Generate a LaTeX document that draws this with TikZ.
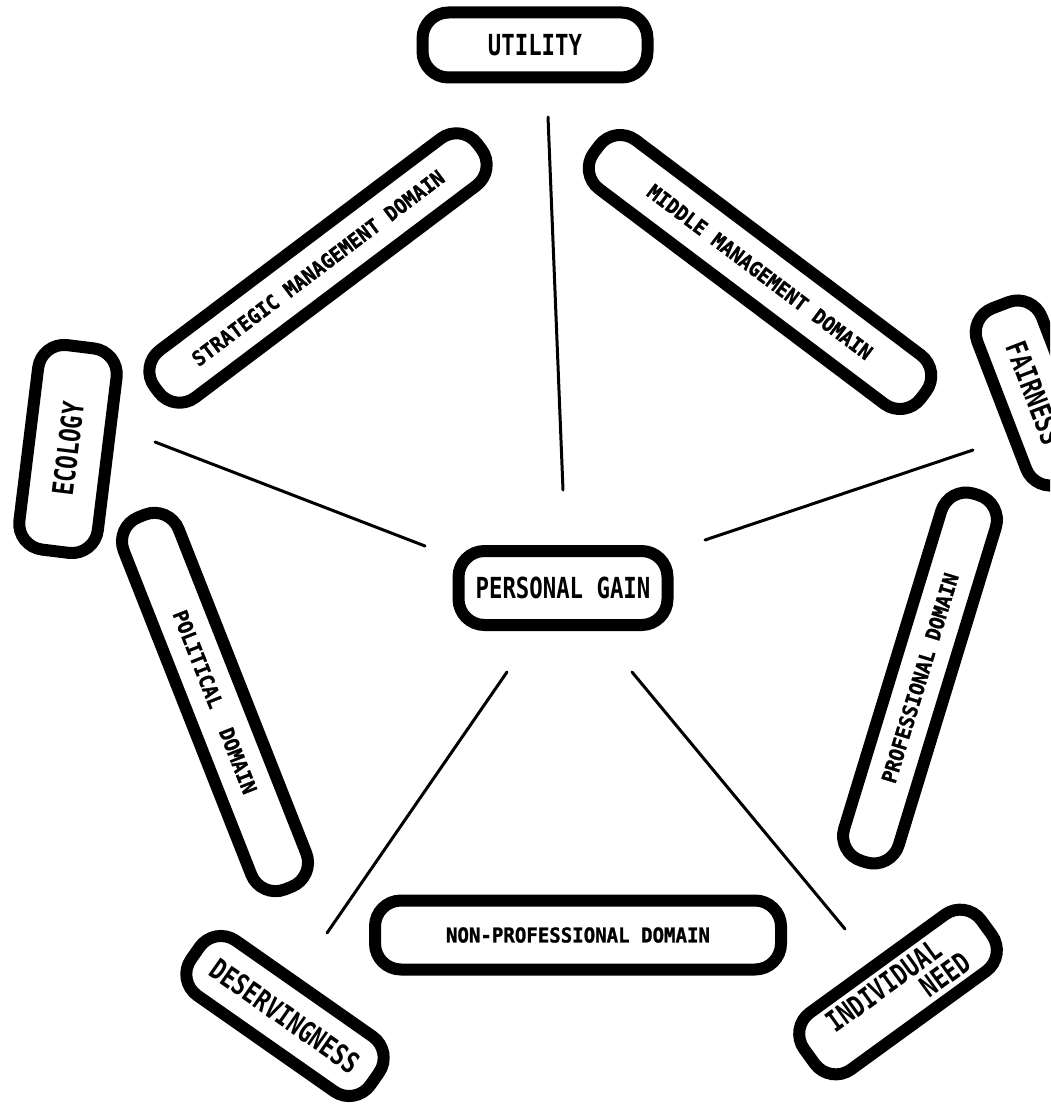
\documentclass[tikz,border=0pt]{standalone}
\usepackage{fontspec}
\newfontfamily\bigfont[FakeStretch=0.77]{DejaVu Sans Mono}
\newfontfamily\smallfont[FakeStretch=0.93,FakeBold=1.2]{DejaVu Sans Mono}
\begin{document}
\begin{tikzpicture}[x=1pt,y=-1pt,
  box/.style={draw=black, line width=12pt, rounded corners=26pt, inner sep=0pt, fill=white},
  big/.style={font={\bigfont\bfseries\fontsize{29}{27}\selectfont}},
  small/.style={font={\smallfont\bfseries\fontsize{20.5}{22}\selectfont}},
  link/.style={line width=3pt, line cap=round}]
\clip (0,0) rectangle (1050,1113);
\useasboundingbox (0,0) rectangle (1050,1113);
\fill[white] (0,0) rectangle (1050,1113);
% nodes
\node[box,big,minimum width=225pt,minimum height=65pt] (util) at (535,45) {UTILITY};
\node[box,big,minimum width=209pt,minimum height=74pt] (pg) at (563,588) {PERSONAL GAIN};
\node[box,small,rotate=37,minimum width=404pt,minimum height=59pt] (smd) at (318,268) {STRATEGIC MANAGEMENT DOMAIN};
\node[box,small,rotate=-37,minimum width=409pt,minimum height=61pt] (mmd) at (760,272) {MIDDLE MANAGEMENT DOMAIN};
\node[box,big,rotate=83,minimum width=206pt,minimum height=79pt] (eco) at (68,449) {ECOLOGY};
\node[box,big,rotate=-69,minimum width=188pt,minimum height=69pt] (fair) at (1034,393) {FAIRNESS};
\node[box,small,rotate=-68.5,minimum width=400pt,minimum height=59pt] (pol) at (215,702) {POLITICAL\ \ DOMAIN};
\node[box,small,rotate=73,minimum width=384pt,minimum height=57pt] (prof) at (920,678) {PROFESSIONAL DOMAIN};
\node[box,small,minimum width=406pt,minimum height=69pt] (npd) at (578,935) {NON-PROFESSIONAL DOMAIN};
\node[box,big,rotate=-35,minimum width=219pt,minimum height=67pt] (des) at (285,1016) {DESERVINGNESS};
\node[box,big,rotate=36,minimum width=219pt,minimum height=70pt,align=right] (ind) at (898,992) {INDIVIDUAL\hspace*{16pt}\\NEED};
% connector ends
\coordinate (uA) at (563,490); \coordinate (uB) at (548,117);
\coordinate (eA) at (425,546); \coordinate (eB) at (155,442);
\coordinate (fA) at (705,540); \coordinate (fB) at (973,450);
\coordinate (dA) at (507,672); \coordinate (dB) at (327,933);
\coordinate (iA) at (632,672); \coordinate (iB) at (845,929);
\draw[link] (uA) -- (uB);
\draw[link] (eA) -- (eB);
\draw[link] (fA) -- (fB);
\draw[link] (dA) -- (dB);
\draw[link] (iA) -- (iB);
\end{tikzpicture}
\end{document}
